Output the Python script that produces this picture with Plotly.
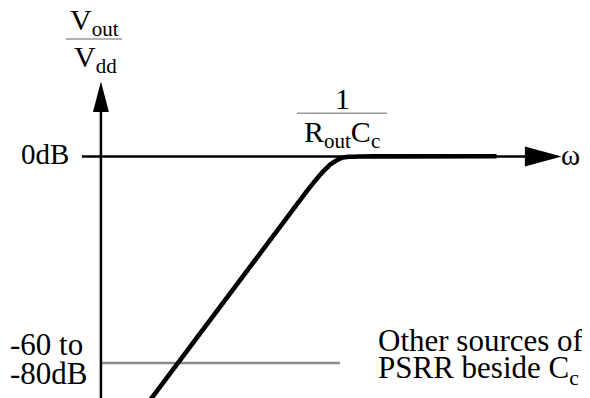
import plotly.graph_objects as go

# ---------------- data (log10(w/wc) in decades, magnitude in dB) ----------------
curve_logw = [-4.2, -0.6, -0.42, -0.28, -0.16, -0.05, 0.07, 0.2, 0.38, 0.6, 1.2, 3.70]
curve_db = [-84.0, -12.0, -8.6, -6.1, -4.2, -2.6, -1.4, -0.45, -0.1, 0.0, 0.05, 0.1]

psrr_floor_logw = [-5.24, 0.16]
psrr_floor_db = [-70.0, -70.0]

yaxis_logw = -5.24          # where the vertical axis sits
xaxis_start_logw = -5.67    # left end of the 0 dB axis (small stub left of the vertical axis)
xaxis_tip_logw = 5.17       # arrow tip on the w axis
yaxis_bottom_db = -86.0
yaxis_tip_db = 25.4

# the page body keeps an 8 px margin, so the figure is drawn 8 px in from the window edge
PAGE_MARGIN = 8
WIN_W, WIN_H = 590, 398
W, H = WIN_W - PAGE_MARGIN, WIN_H - PAGE_MARGIN

X_RANGE = [-7.340, 5.812]
Y_RANGE = [-81.86, 50.34]

FONT = "Liberation Serif"

fig = go.Figure()

# gray "other sources" floor
fig.add_trace(go.Scatter(x=psrr_floor_logw, y=psrr_floor_db, mode="lines",
                         line=dict(color="#8c8c8c", width=2.5), hoverinfo="skip"))

# axes lines
arrow_len_x = 0.83   # decades
arrow_half_x = 3.4   # dB
arrow_len_y = 10.3   # dB
arrow_half_y = 0.18  # decades

fig.add_trace(go.Scatter(x=[xaxis_start_logw, xaxis_tip_logw - arrow_len_x + 0.1], y=[0, 0], mode="lines",
                         line=dict(color="black", width=2.5), hoverinfo="skip"))
fig.add_trace(go.Scatter(x=[yaxis_logw, yaxis_logw], y=[yaxis_bottom_db, yaxis_tip_db - arrow_len_y + 1],
                         mode="lines", line=dict(color="black", width=2.5), hoverinfo="skip"))

# main response curve
fig.add_trace(go.Scatter(x=curve_logw, y=curve_db, mode="lines",
                         line=dict(color="black", width=4.6, shape="spline", smoothing=0.6),
                         hoverinfo="skip"))

shapes = []
# arrowheads
bx = xaxis_tip_logw - arrow_len_x
shapes.append(dict(type="path", xref="x", yref="y",
                   path=f"M {xaxis_tip_logw},0 L {bx},{arrow_half_x} L {bx},{-arrow_half_x} Z",
                   fillcolor="black", line=dict(width=0)))
by = yaxis_tip_db - arrow_len_y
shapes.append(dict(type="path", xref="x", yref="y",
                   path=f"M {yaxis_logw},{yaxis_tip_db} L {yaxis_logw + arrow_half_y},{by} L {yaxis_logw - arrow_half_y},{by} Z",
                   fillcolor="black", line=dict(width=0)))


def px(xp):
    return (xp - PAGE_MARGIN) / W


def py(yp):
    return 1 - (yp - PAGE_MARGIN) / H


# fraction bars
for x0, x1, y0 in [(66, 122, 39), (297, 387, 113.3)]:
    shapes.append(dict(type="line", xref="paper", yref="paper", x0=px(x0), x1=px(x1), y0=py(y0), y1=py(y0),
                       line=dict(color="#999999", width=1.5)))

annotations = []


def label(text, x, y, xanchor="center", size=30):
    annotations.append(dict(text=text, x=px(x), y=py(y), xref="paper", yref="paper",
                            xanchor=xanchor, yanchor="middle", showarrow=False,
                            font=dict(family=FONT, size=size, color="black")))


label("V<sub>out</sub>", 94, 22)
label("V<sub>dd</sub>", 95, 59)
label("1", 342, 98)
label("R<sub>out</sub>C<sub>c</sub>", 341.5, 134)
label("0dB", 71, 154, xanchor="right", size=29)
label("ω", 570, 155, size=29)
label("-60 to", 8, 344, xanchor="left", size=31)
label("-80dB", 8, 373, xanchor="left", size=31)
label("Other sources of", 376, 340, xanchor="left", size=31)
label("PSRR beside C<sub>c</sub>", 376, 370, xanchor="left", size=31)

fig.update_layout(
    width=W, height=H, autosize=False,
    margin=dict(l=0, r=0, t=0, b=0),
    paper_bgcolor="white", plot_bgcolor="white",
    showlegend=False,
    xaxis=dict(range=X_RANGE, visible=False, fixedrange=True),
    yaxis=dict(range=Y_RANGE, visible=False, fixedrange=True),
    shapes=shapes, annotations=annotations,
)

fig.write_html("out.html")
